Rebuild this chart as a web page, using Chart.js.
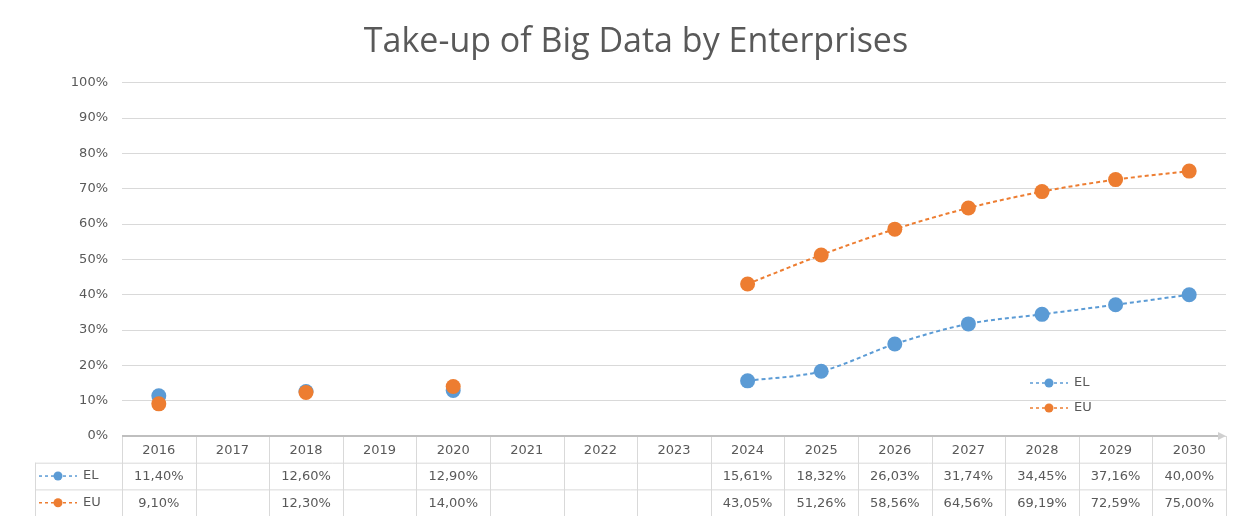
<!DOCTYPE html>
<html>
<head>
<meta charset="utf-8">
<script src="https://cdn.jsdelivr.net/npm/chart.js@4.4.0/dist/chart.umd.min.js"></script>
<style>
  html, body { margin: 0; padding: 0; background: #fff; }
  #wrap { width: 1248px; height: 516px; }
</style>
</head>
<body>
<div id="wrap"><canvas id="bigDataChart" width="1248" height="516"></canvas></div>
<script>
// --- data ---
const years = ['2016', '2017', '2018', '2019', '2020', '2021', '2022', '2023',
               '2024', '2025', '2026', '2027', '2028', '2029', '2030'];
const elValues = [11.40, null, 12.60, null, 12.90, null, null, null,
                  15.61, 18.32, 26.03, 31.74, 34.45, 37.16, 40.00];
const euValues = [9.10, null, 12.30, null, 14.00, null, null, null,
                  43.05, 51.26, 58.56, 64.56, 69.19, 72.59, 75.00];
const yTicks = [0, 10, 20, 30, 40, 50, 60, 70, 80, 90, 100];

const BLUE = '#5B9BD5';
const ORANGE = '#ED7D31';
const TEXT = '#595959';
const GRID = '#d9d9d9';
const FONT = '"DejaVu Sans", sans-serif';

const fmt = v => v === null ? '' : v.toFixed(2).replace('.', ',') + '%';

// little legend key: dashed line + dot
function drawKey(ctx, x, y, color, label) {
    ctx.save();
    ctx.strokeStyle = color;
    ctx.lineWidth = 1.5;
    ctx.setLineDash([3, 3]);
    ctx.beginPath();
    ctx.moveTo(x, y);
    ctx.lineTo(x + 38, y);
    ctx.stroke();
    ctx.setLineDash([]);
    ctx.fillStyle = color;
    ctx.beginPath();
    ctx.arc(x + 19, y, 4.5, 0, Math.PI * 2);
    ctx.fill();
    ctx.fillStyle = TEXT;
    ctx.font = '13px ' + FONT;
    ctx.textAlign = 'left';
    ctx.textBaseline = 'middle';
    ctx.fillText(label, x + 44, y);
    ctx.restore();
}

// data table under the plot + legend inside the plot
const tablePlugin = {
    id: 'dataTable',
    afterDraw(chart) {
        const ctx = chart.ctx;
        const area = chart.chartArea;
        const n = years.length;
        const colW = (area.right - area.left) / n;
        const rowH = 26.7;
        const top = area.bottom;
        const leftCol = 35;

        ctx.save();
        ctx.strokeStyle = GRID;
        ctx.lineWidth = 1;
        // horizontal lines
        ctx.beginPath();
        ctx.moveTo(leftCol, top + rowH + 0.5);
        ctx.lineTo(area.right, top + rowH + 0.5);
        ctx.moveTo(leftCol, top + 2 * rowH + 0.5);
        ctx.lineTo(area.right, top + 2 * rowH + 0.5);
        // vertical lines
        for (let i = 0; i <= n; i++) {
            const x = Math.round(area.left + i * colW) + 0.5;
            ctx.moveTo(x, top);
            ctx.lineTo(x, top + 3 * rowH);
        }
        ctx.moveTo(leftCol + 0.5, top + rowH);
        ctx.lineTo(leftCol + 0.5, top + 3 * rowH);
        ctx.stroke();

        // axis line with arrow
        ctx.strokeStyle = '#bfbfbf';
        ctx.lineWidth = 2;
        ctx.beginPath();
        ctx.moveTo(area.left, top);
        ctx.lineTo(area.right - 4, top);
        ctx.stroke();
        ctx.fillStyle = '#d0d0d0';
        ctx.beginPath();
        ctx.moveTo(area.right, top);
        ctx.lineTo(area.right - 8, top - 4);
        ctx.lineTo(area.right - 8, top + 4);
        ctx.closePath();
        ctx.fill();

        // text
        ctx.fillStyle = TEXT;
        ctx.font = '13px ' + FONT;
        ctx.textAlign = 'center';
        ctx.textBaseline = 'middle';
        years.forEach((yr, i) => {
            const cx = chart.scales.x.getPixelForValue(i);
            ctx.fillText(yr, cx, top + rowH / 2 + 1);
            ctx.fillText(fmt(elValues[i]), cx, top + rowH * 1.5 + 1);
            ctx.fillText(fmt(euValues[i]), cx, top + rowH * 2.5 + 1);
        });
        ctx.restore();

        drawKey(ctx, leftCol + 4, top + rowH * 1.5, BLUE, 'EL');
        drawKey(ctx, leftCol + 4, top + rowH * 2.5, ORANGE, 'EU');

        // legend inside the plot area
        drawKey(ctx, 1030, 383, BLUE, 'EL');
        drawKey(ctx, 1030, 408, ORANGE, 'EU');
    }
};

document.addEventListener('DOMContentLoaded', () => {
    const ctx = document.getElementById('bigDataChart').getContext('2d');
    new Chart(ctx, {
        type: 'line',
        data: {
            labels: years,
            datasets: [
                {
                    label: 'EL',
                    data: elValues,
                    order: 1,
                    borderColor: BLUE,
                    backgroundColor: BLUE,
                    borderWidth: 2,
                    borderDash: [4, 3],
                    pointRadius: 7.5,
                    pointHoverRadius: 7.5,
                    pointBorderWidth: 0,
                    cubicInterpolationMode: 'monotone',
                    spanGaps: false
                },
                {
                    label: 'EU',
                    data: euValues,
                    order: 0,
                    borderColor: ORANGE,
                    backgroundColor: ORANGE,
                    borderWidth: 2,
                    borderDash: [4, 3],
                    pointRadius: 7.5,
                    pointHoverRadius: 7.5,
                    pointBorderWidth: 0,
                    cubicInterpolationMode: 'monotone',
                    spanGaps: false
                }
            ]
        },
        options: {
            responsive: false,
            animation: false,
            layout: { padding: { top: 0, right: 22, bottom: 80, left: 46 } },
            plugins: {
                legend: { display: false },
                tooltip: { enabled: false },
                title: {
                    display: true,
                    text: 'Take-up of Big Data by Enterprises',
                    color: TEXT,
                    font: { family: '"Open Sans", sans-serif', size: 34, weight: 'normal' },
                    padding: { top: 22, bottom: 20 }
                }
            },
            scales: {
                x: {
                    offset: true,
                    grid: { display: false, drawTicks: false },
                    border: { display: false },
                    ticks: { display: false }
                },
                y: {
                    min: 0,
                    max: 100,
                    afterFit(scale) { scale.width = 76; },
                    afterBuildTicks(scale) { scale.ticks = yTicks.map(v => ({ value: v })); },
                    grid: { color: GRID, drawTicks: false },
                    border: { display: false },
                    ticks: {
                        color: TEXT,
                        font: { family: FONT, size: 13 },
                        padding: 14,
                        callback: v => v + '%'
                    }
                }
            }
        },
        plugins: [tablePlugin]
    });
});
</script>
</body>
</html>
